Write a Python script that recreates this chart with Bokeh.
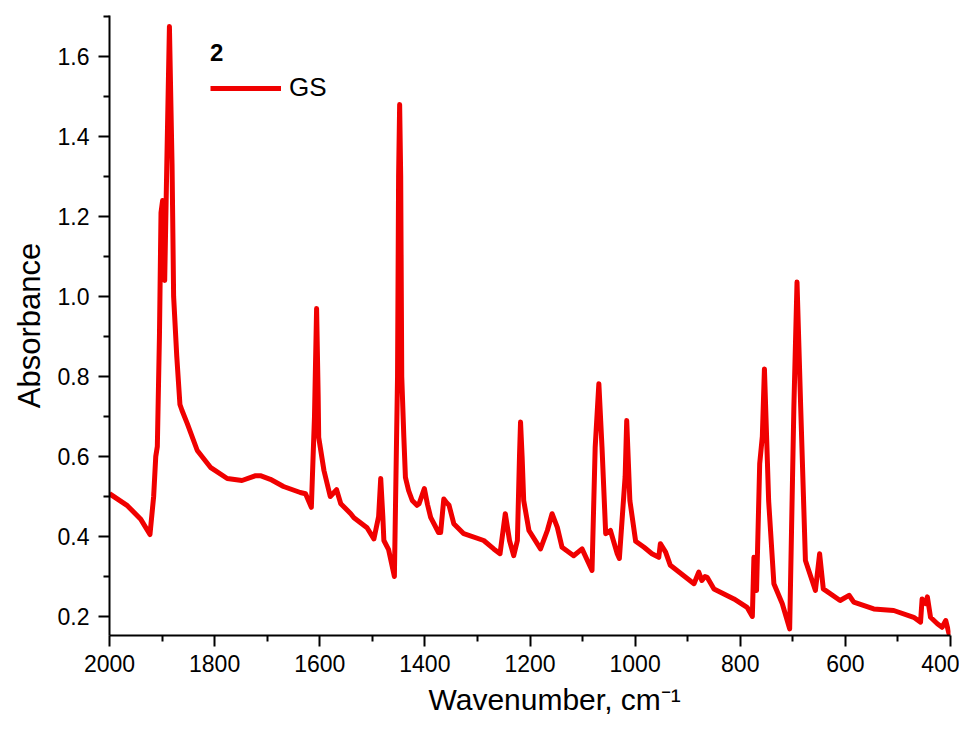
from bokeh.plotting import figure
from bokeh.models import Range1d, FixedTicker, Legend, LegendItem, Title
from bokeh.embed import file_html
from bokeh.resources import INLINE

# ---- data ----
wavenumber = [
    2000, 1966, 1941, 1923, 1916, 1912, 1909, 1905, 1902, 1899, 1895, 1891, 1886,
    1881, 1878, 1872, 1866, 1862, 1852, 1833, 1808, 1776, 1748, 1722, 1713, 1694,
    1669, 1637, 1627, 1616, 1610, 1606, 1603, 1602, 1592, 1580, 1568, 1560, 1541,
    1535, 1510, 1497, 1488, 1484, 1480, 1478, 1469, 1458, 1452, 1450, 1448, 1446,
    1444, 1440, 1437, 1431, 1424, 1415, 1411, 1401, 1395, 1389, 1374, 1370, 1364,
    1359, 1354, 1345, 1326, 1288, 1269, 1257, 1247, 1239, 1231, 1224, 1220, 1218,
    1215, 1212, 1202, 1180, 1167, 1158, 1148, 1139, 1117, 1101, 1082, 1076, 1069,
    1063, 1056, 1047, 1034, 1030, 1019, 1016, 1010, 999, 983, 968, 955, 952, 942,
    933, 888, 879, 873, 867, 863, 850, 812, 787, 777, 774, 769, 763, 758, 754,
    746, 736, 720, 706, 698, 692, 685, 676, 657, 649, 642, 610, 593, 584, 546,
    508, 470, 457, 454, 447, 444, 438, 425, 416, 409, 403, 400,
]
absorbance = [
    0.507, 0.477, 0.444, 0.405, 0.500, 0.600, 0.625, 0.900, 1.210, 1.240, 1.040, 1.330, 1.675,
    1.330, 1.000, 0.850, 0.730, 0.715, 0.682, 0.615, 0.573, 0.545, 0.540, 0.552, 0.552, 0.543,
    0.525, 0.510, 0.507, 0.473, 0.700, 0.970, 0.750, 0.648, 0.565, 0.500, 0.517, 0.482, 0.457,
    0.447, 0.422, 0.394, 0.450, 0.545, 0.450, 0.390, 0.367, 0.300, 0.800, 1.300, 1.480, 1.300,
    0.800, 0.648, 0.548, 0.515, 0.490, 0.478, 0.482, 0.520, 0.480, 0.448, 0.410, 0.410, 0.494,
    0.485, 0.478, 0.432, 0.407, 0.390, 0.369, 0.357, 0.457, 0.390, 0.352, 0.390, 0.600, 0.686,
    0.600, 0.490, 0.415, 0.369, 0.415, 0.457, 0.423, 0.373, 0.352, 0.369, 0.315, 0.623, 0.782,
    0.623, 0.407, 0.415, 0.357, 0.345, 0.550, 0.690, 0.490, 0.388, 0.373, 0.357, 0.348, 0.382, 0.361,
    0.328, 0.282, 0.311, 0.290, 0.300, 0.298, 0.269, 0.244, 0.223, 0.200, 0.348, 0.265, 0.582, 0.650, 0.819,
    0.490, 0.282, 0.232, 0.169, 0.723, 1.036, 0.723, 0.340, 0.265, 0.357, 0.269, 0.240, 0.253, 0.236, 0.219,
    0.215, 0.198, 0.186, 0.244, 0.232, 0.249, 0.198, 0.182, 0.173, 0.190, 0.158, 0.165,
]

x_major_ticks = [2000, 1800, 1600, 1400, 1200, 1000, 800, 600, 400]
x_minor_ticks = [1900, 1700, 1500, 1300, 1100, 900, 700, 500]
y_major_ticks = [0.2, 0.4, 0.6, 0.8, 1.0, 1.2, 1.4, 1.6]
y_tick_labels = ["0.2", "0.4", "0.6", "0.8", "1.0", "1.2", "1.4", "1.6"]
y_minor_ticks = [0.3, 0.5, 0.7, 0.9, 1.1, 1.3, 1.5, 1.7]

series_name = "GS"
legend_title = "2"
x_title = "Wavenumber, cm\u207b\u00b9"
y_title = "Absorbance"

FONT = "Liberation Sans"
RED = "#f00000"

p = figure(
    width=959, height=715,
    output_backend="svg", toolbar_location=None,
    x_range=Range1d(2000, 400), y_range=Range1d(0.1525, 1.7025),
    min_border_left=109, min_border_right=9, min_border_top=15, min_border_bottom=80,
)
p.xgrid.visible = False
p.ygrid.visible = False
p.outline_line_color = None
p.background_fill_color = "white"
p.border_fill_color = "white"

p.xaxis.ticker = FixedTicker(ticks=x_major_ticks, minor_ticks=x_minor_ticks)
p.yaxis.ticker = FixedTicker(ticks=y_major_ticks, minor_ticks=y_minor_ticks)
p.yaxis.major_label_overrides = {t: s for t, s in zip(y_major_ticks, y_tick_labels)}

for ax in (p.xaxis[0], p.yaxis[0]):
    ax.axis_line_color = "black"
    ax.axis_line_width = 2
    ax.major_tick_line_color = "black"
    ax.major_tick_line_width = 2
    ax.minor_tick_line_color = "black"
    ax.minor_tick_line_width = 2
    ax.major_tick_in = 0
    ax.major_tick_out = 11
    ax.minor_tick_in = 0
    ax.minor_tick_out = 6
    ax.major_label_text_font = FONT
    ax.major_label_text_font_size = "23px"
    ax.major_label_text_color = "black"

p.xaxis.major_label_standoff = 8
p.yaxis.major_label_standoff = 9

p.yaxis.axis_label = y_title
p.yaxis.axis_label_text_font = FONT
p.yaxis.axis_label_text_font_size = "31px"
p.yaxis.axis_label_text_font_style = "normal"
p.yaxis.axis_label_text_color = "black"
p.yaxis.axis_label_standoff = 8

r = p.line(wavenumber, absorbance, line_color=RED, line_width=5, line_join="round")

legend = Legend(
    items=[LegendItem(label=series_name, renderers=[r])],
    title=legend_title,
    location=(101, 532),
    title_text_font=FONT, title_text_font_size="24px", title_text_font_style="bold",
    title_text_color="black", title_standoff=5,
    label_text_font=FONT, label_text_font_size="26px", label_text_color="black",
    glyph_width=71, glyph_height=30, label_height=30, label_standoff=8,
    padding=0, spacing=0, margin=0,
    border_line_color=None, background_fill_alpha=0,
)
p.add_layout(legend)

xt = Title(text=x_title, align="left", offset=319, standoff=0,
           padding=(0, 0, 6, 0),
           text_font=FONT, text_font_size="30px", text_font_style="normal",
           text_color="black")
p.add_layout(xt, "below")

open("out.html", "w").write(file_html(p, INLINE))
